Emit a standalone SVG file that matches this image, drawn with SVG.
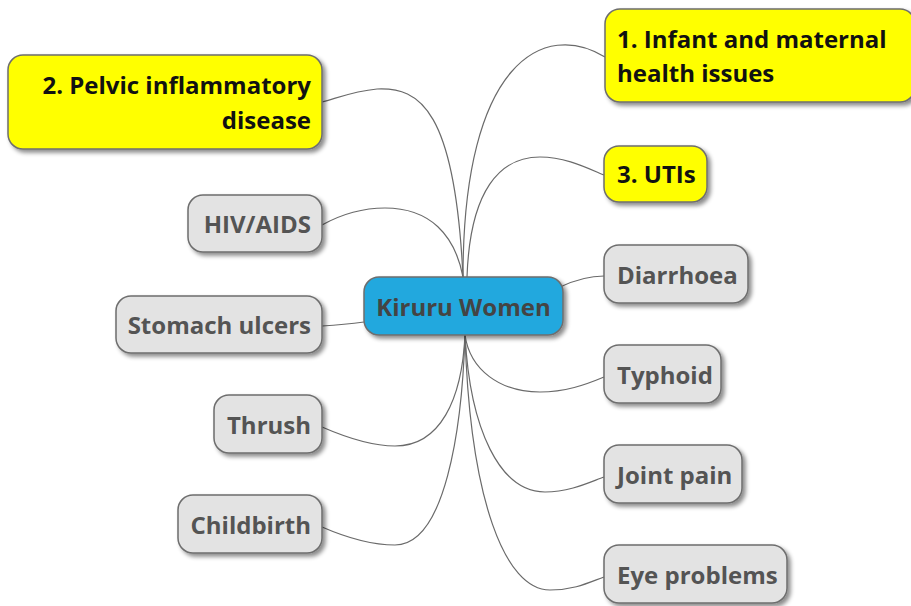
<svg xmlns="http://www.w3.org/2000/svg" width="911" height="606" viewBox="0 0 911 606">
<defs>
<filter id="sh" x="-10%" y="-20%" width="130%" height="150%">
<feDropShadow dx="3" dy="3" stdDeviation="2" flood-color="#000" flood-opacity="0.45"/>
</filter>
<style>
.box{stroke:#6e6e6e;stroke-width:1.5;filter:url(#sh)}
.gray{fill:#e3e3e3}
.yel{fill:#ffff00}
.ctr{fill:#22a8de}
text{font-family:"Open Sans","Noto Sans","DejaVu Sans",sans-serif;font-weight:bold;font-size:24px}
.gt{fill:#545454}
.yt{fill:#111}
.ct{fill:#444}
.edge{fill:none;stroke:#6a6a6a;stroke-width:1.2}
</style>
</defs>
<rect width="911" height="606" fill="#fff"/>
<g id="connectors">
<path class="edge" d="M463,277 C463,60 545,20 605,57"/>
<path class="edge" d="M463,277 C455,110 420,87 377,89 C355,91 340,97 322,102"/>
<path class="edge" d="M467,277 C470,190 500,157 540,157 C565,157 585,167 604,175"/>
<path class="edge" d="M463,277 C455,235 430,208 385,208 C360,208 340,215 322,225"/>
<path class="edge" d="M322,326 C340,325 350,324 364,322"/>
<path class="edge" d="M560,287 C575,280 590,276 604,276"/>
<path class="edge" d="M465,335 C470,370 500,392 540,392 C565,392 585,385 604,377"/>
<path class="edge" d="M465,335 C470,430 500,492 545,492 C570,492 590,482 604,477"/>
<path class="edge" d="M465,335 C470,500 505,590 550,590 C575,590 590,582 604,577"/>
<path class="edge" d="M322,427 C345,437 370,446 395,446 C440,446 462,400 465,335"/>
<path class="edge" d="M322,527 C345,537 370,545 395,545 C445,545 462,430 465,335"/>
</g>
<g id="center">
<rect class="box ctr" x="364" y="277" width="199" height="58" rx="15"/>
<text class="ct" x="463.5" y="316" text-anchor="middle">Kiruru Women</text>
</g>
<g id="n1">
<rect class="box yel" x="605" y="9" width="310" height="93" rx="15"/>
<text class="yt" x="617" y="48">1. Infant and maternal</text>
<text class="yt" x="617" y="82">health issues</text>
</g>
<g id="n2">
<rect class="box yel" x="8" y="55" width="314" height="94" rx="15"/>
<text class="yt" x="311" y="94" text-anchor="end">2. Pelvic inflammatory</text>
<text class="yt" x="311" y="129" text-anchor="end">disease</text>
</g>
<g id="n3">
<rect class="box yel" x="604" y="146" width="103" height="56" rx="15"/>
<text class="yt" x="617" y="183">3. UTIs</text>
</g>
<g id="hiv">
<rect class="box gray" x="188" y="195" width="134" height="57" rx="15"/>
<text class="gt" x="311" y="233" text-anchor="end">HIV/AIDS</text>
</g>
<g id="stomach">
<rect class="box gray" x="116" y="296" width="206" height="57" rx="15"/>
<text class="gt" x="311" y="334" text-anchor="end">Stomach ulcers</text>
</g>
<g id="thrush">
<rect class="box gray" x="214" y="395" width="108" height="58" rx="15"/>
<text class="gt" x="311" y="434" text-anchor="end">Thrush</text>
</g>
<g id="childbirth">
<rect class="box gray" x="178" y="495" width="144" height="58" rx="15"/>
<text class="gt" x="311" y="534" text-anchor="end">Childbirth</text>
</g>
<g id="diarrhoea">
<rect class="box gray" x="604" y="245" width="144" height="58" rx="15"/>
<text class="gt" x="617" y="284">Diarrhoea</text>
</g>
<g id="typhoid">
<rect class="box gray" x="604" y="345" width="117" height="58" rx="15"/>
<text class="gt" x="617" y="384">Typhoid</text>
</g>
<g id="joint">
<rect class="box gray" x="604" y="445" width="138" height="58" rx="15"/>
<text class="gt" x="617" y="484">Joint pain</text>
</g>
<g id="eye">
<rect class="box gray" x="604" y="545" width="183" height="58" rx="15"/>
<text class="gt" x="617" y="584">Eye problems</text>
</g>
</svg>
